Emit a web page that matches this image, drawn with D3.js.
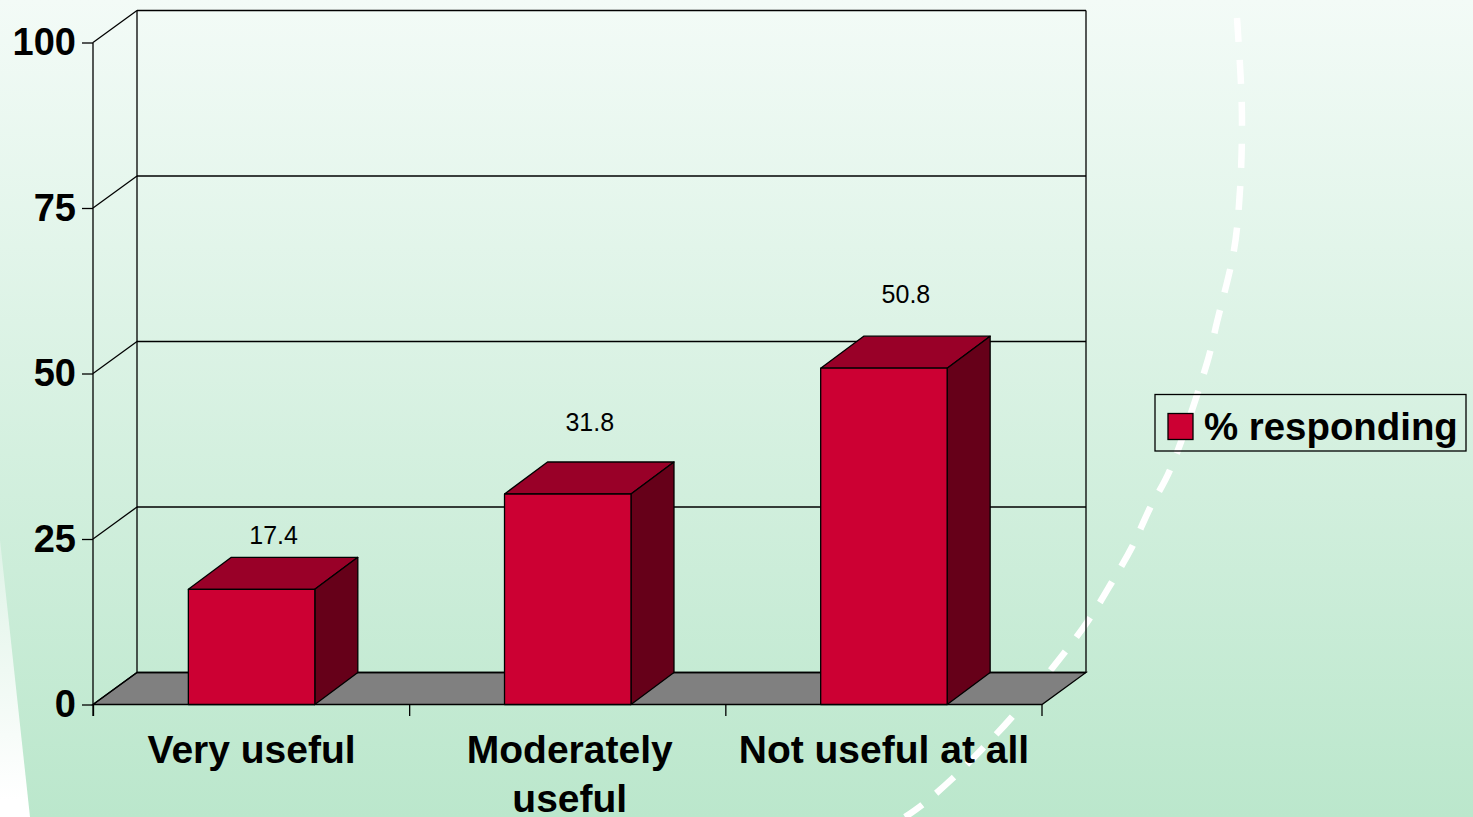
<!DOCTYPE html>
<html>
<head>
<meta charset="utf-8">
<script src="https://d3js.org/d3.v7.min.js"></script>
<style>
  html, body { margin: 0; padding: 0; background: #fff; overflow: hidden; }
  svg { display: block; }
  text { font-family: "Liberation Sans", Arial, sans-serif; fill: #000; }
</style>
</head>
<body>
<svg width="1473" height="817"></svg>
<script>
  // values
  var categories = ["Very useful", "Moderately useful", "Not useful at all"];
  var categoryLines = [["Very useful"], ["Moderately", "useful"], ["Not useful at all"]];
  var responding = [17.4, 31.8, 50.8];
  var yTicks = [0, 25, 50, 75, 100];
  var seriesName = "% responding";

  // hand placed nudges, same as in the slide
  var labelLift = [13, 31, 33];
  var categoryNudge = [0, 2, 0];

  var svg = d3.select("svg");
  var defs = svg.append("defs");

  var bg = defs.append("linearGradient").attr("id", "bg").attr("x1", 0).attr("y1", 0).attr("x2", 0).attr("y2", 1);
  bg.append("stop").attr("offset", "0%").attr("stop-color", "#f3fbf7");
  bg.append("stop").attr("offset", "100%").attr("stop-color", "#bbe7cc");

  var wedge = defs.append("linearGradient").attr("id", "wedge").attr("gradientUnits", "userSpaceOnUse")
    .attr("x1", 0).attr("y1", 540).attr("x2", 0).attr("y2", 800);
  wedge.append("stop").attr("offset", "0%").attr("stop-color", "#dff3e7");
  wedge.append("stop").attr("offset", "100%").attr("stop-color", "#ffffff");

  svg.append("rect").attr("width", 1473).attr("height", 817).attr("fill", "url(#bg)");
  svg.append("polygon").attr("points", "0,540 30,817 0,817").attr("fill", "url(#wedge)");

  // dashed slide decoration
  var arc = [[1237, 18], [1241, 84], [1242, 126], [1240, 190], [1234, 250], [1217, 322], [1207, 363], [1170, 470],
             [1150, 508], [1132, 547], [1112, 582], [1090, 618], [1065, 652], [1012, 717], [983, 748], [953, 778], [922, 805], [905, 817]];
  svg.append("path")
    .attr("d", d3.line().curve(d3.curveCatmullRom)(arc))
    .attr("fill", "none")
    .attr("stroke", "#fff")
    .attr("stroke-width", 6.5)
    .attr("stroke-dasharray", "24 18");

  var dx = 44, dy = -32;
  var barDx = 43;
  var x = d3.scaleBand().domain(categories).range([93.5, 1042]).paddingInner(0).paddingOuter(0);
  var y = d3.scaleLinear().domain([0, 100]).range([704.5, 42.5]);
  var barW = x.bandwidth() * 0.4;

  function pts(a) { return a.map(function(p) { return p.join(","); }).join(" "); }

  // floor
  svg.append("polygon")
    .attr("points", pts([[93, y(0)], [93 + dx, y(0) + dy], [1042 + dx, y(0) + dy], [1042, y(0)]]))
    .attr("fill", "#808080")
    .attr("stroke", "#000")
    .attr("stroke-width", 1.3);

  // walls and gridlines
  var grid = svg.append("g").attr("stroke", "#000").attr("stroke-width", 1.3).attr("fill", "none");
  grid.selectAll("line.back").data(yTicks).enter().append("line")
    .attr("class", "back")
    .attr("x1", 93 + dx).attr("x2", 1042 + dx)
    .attr("y1", function(d) { return y(d) + dy; })
    .attr("y2", function(d) { return y(d) + dy; });
  grid.selectAll("line.side").data(yTicks).enter().append("line")
    .attr("class", "side")
    .attr("x1", 93).attr("x2", 93 + dx)
    .attr("y1", function(d) { return y(d); })
    .attr("y2", function(d) { return y(d) + dy; });
  grid.append("line").attr("x1", 93 + dx).attr("x2", 93 + dx).attr("y1", y(100) + dy).attr("y2", y(0) + dy);
  grid.append("line").attr("x1", 1042 + dx).attr("x2", 1042 + dx).attr("y1", y(100) + dy).attr("y2", y(0) + dy);

  // y axis
  var yAxis = svg.append("g").attr("transform", "translate(93,0)")
    .call(d3.axisLeft(y).tickValues(yTicks).tickSize(11).tickPadding(6));
  yAxis.selectAll("path, line").attr("stroke", "#000").attr("stroke-width", 1.3);
  yAxis.select("path").attr("d", "M0," + y(100) + "V716");
  yAxis.selectAll("text")
    .style("font-size", "38px")
    .style("font-weight", "bold")
    .attr("fill", "#000")
    .attr("dy", "0.32em");

  // bars
  var bars = svg.append("g").selectAll("g").data(responding).enter().append("g")
    .attr("stroke", "#000").attr("stroke-width", 1.3).attr("stroke-linejoin", "round");

  function left(i) { return x(categories[i]) + (x.bandwidth() - barW) / 2; }

  bars.append("polygon")
    .attr("fill", "#990028")
    .attr("points", function(d, i) {
      var l = left(i), t = y(d);
      return pts([[l, t], [l + barDx, t + dy], [l + barW + barDx, t + dy], [l + barW, t]]);
    });
  bars.append("polygon")
    .attr("fill", "#660019")
    .attr("points", function(d, i) {
      var l = left(i) + barW, t = y(d);
      return pts([[l, t], [l + barDx, t + dy], [l + barDx, y(0) + dy], [l, y(0)]]);
    });
  bars.append("rect")
    .attr("fill", "#cc0033")
    .attr("x", function(d, i) { return left(i); })
    .attr("y", function(d) { return y(d); })
    .attr("width", barW)
    .attr("height", function(d) { return y(0) - y(d); });

  // value labels
  svg.append("g").selectAll("text").data(responding).enter().append("text")
    .attr("x", function(d, i) { return left(i) + barW / 2 + dx / 2; })
    .attr("y", function(d, i) { return y(d) + dy - labelLift[i]; })
    .attr("text-anchor", "middle")
    .style("font-size", "25px")
    .text(function(d) { return d.toFixed(1); });

  // x axis
  var xTicks = svg.append("g").attr("stroke", "#000").attr("stroke-width", 1.3);
  xTicks.selectAll("line").data(d3.range(categories.length + 1)).enter().append("line")
    .attr("x1", function(i) { return x.range()[0] + i * x.step(); })
    .attr("x2", function(i) { return x.range()[0] + i * x.step(); })
    .attr("y1", y(0)).attr("y2", 716);

  var xLabels = svg.append("g").selectAll("text").data(categoryLines).enter().append("text")
    .attr("text-anchor", "middle")
    .attr("y", 763)
    .style("font-size", "39px")
    .style("font-weight", "bold");
  xLabels.selectAll("tspan").data(function(d, i) { return d.map(function(s) { return [s, i]; }); }).enter().append("tspan")
    .attr("x", function(d) { return x(categories[d[1]]) + x.bandwidth() / 2 + categoryNudge[d[1]]; })
    .attr("dy", function(d, j) { return j ? 49 : 0; })
    .text(function(d) { return d[0]; });

  // legend
  var legend = svg.append("g");
  legend.append("rect")
    .attr("x", 1155).attr("y", 394.5).attr("width", 311).attr("height", 56.5)
    .attr("fill", "none").attr("stroke", "#000").attr("stroke-width", 1.3);
  legend.append("rect")
    .attr("x", 1168).attr("y", 413.5).attr("width", 25).attr("height", 26)
    .attr("fill", "#cc0033").attr("stroke", "#000").attr("stroke-width", 1.3);
  legend.append("text")
    .attr("x", 1204).attr("y", 440)
    .style("font-size", "38.4px")
    .style("font-weight", "bold")
    .text(seriesName);
</script>
</body>
</html>
